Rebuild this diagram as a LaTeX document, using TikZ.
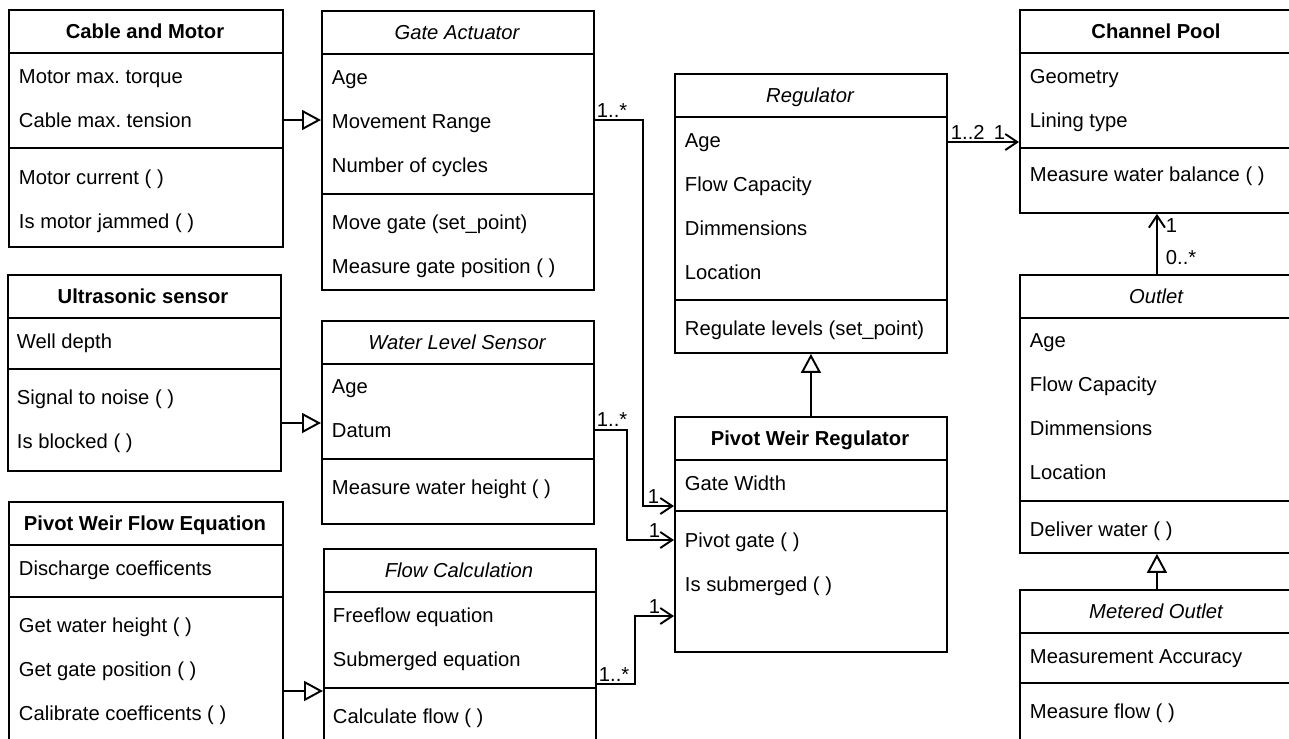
\documentclass[tikz,border=0pt]{standalone}
\usepackage{fontspec}
\setmainfont{Liberation Sans}
\usetikzlibrary{arrows.meta}
\frenchspacing

\tikzset{
  cls/.style={draw, anchor=north west, inner sep=0pt},
  head/.style={anchor=base, inner sep=0pt},
  row/.style={anchor=base west, inner sep=0pt},
  mult/.style={anchor=base west, inner sep=0pt},
  gen/.style={-{Triangle[open,length=0.38cm,width=0.4cm]}},
  assoc/.style={-{Straight Barb[length=0.24cm,width=0.32cm]}}
}

\begin{document}
\begin{tikzpicture}[x=0.02cm, y=-0.02cm, line width=1.1pt, font=\fontsize{11.5}{14}\selectfont]
\useasboundingbox (0,0) rectangle (1289,738);
\clip (0,0) rectangle (1289,738);

% Cable and Motor
\node[cls, minimum width=5.48cm, minimum height=4.74cm] (cable) at (8,9) {};
\node[head] (cableH) at (145,38) {\bfseries Cable and Motor};
\draw (cable.west |- 0,53) -- (cable.east |- 0,53);
\node[row] (cableA1) at (18,83) {Motor max. torque};
\node[row] (cableA2) at (18,127) {Cable max. tension};
\draw (cable.west |- 0,148) -- (cable.east |- 0,148);
\node[row] (cableM1) at (18,184) {Motor current ( )};
\node[row] (cableM2) at (18,228) {Is motor jammed ( )};

% Gate Actuator
\node[cls, minimum width=5.44cm, minimum height=5.58cm] (gate) at (321,10) {};
\node[head] (gateH) at (457,39) {\itshape Gate Actuator};
\draw (gate.west |- 0,54) -- (gate.east |- 0,54);
\node[row] (gateA1) at (331,84) {Age};
\node[row] (gateA2) at (331,128) {Movement Range};
\node[row] (gateA3) at (331,172) {Number of cycles};
\draw (gate.west |- 0,194) -- (gate.east |- 0,194);
\node[row] (gateM1) at (331,229) {Move gate (set\_point)};
\node[row] (gateM2) at (331,273) {Measure gate position ( )};

% Regulator
\node[cls, minimum width=5.44cm, minimum height=5.58cm] (reg) at (674,73) {};
\node[head] (regH) at (810,102) {\itshape Regulator};
\draw (reg.west |- 0,117) -- (reg.east |- 0,117);
\node[row] (regA1) at (684,147) {Age};
\node[row] (regA2) at (684,191) {Flow Capacity};
\node[row] (regA3) at (684,235) {Dimmensions};
\node[row] (regA4) at (684,279) {Location};
\draw (reg.west |- 0,300) -- (reg.east |- 0,300);
\node[row] (regM1) at (684,335) {Regulate levels (set\_point)};

% Channel Pool
\node[cls, minimum width=5.48cm, minimum height=4.06cm] (pool) at (1019,9) {};
\node[head] (poolH) at (1156,38) {\bfseries Channel Pool};
\draw (pool.west |- 0,53) -- (pool.east |- 0,53);
\node[row] (poolA1) at (1029,83) {Geometry};
\node[row] (poolA2) at (1029,127) {Lining type};
\draw (pool.west |- 0,148) -- (pool.east |- 0,148);
\node[row] (poolM1) at (1029,181) {Measure water balance ( )};

% Ultrasonic sensor
\node[cls, minimum width=5.46cm, minimum height=3.92cm] (ultra) at (7,274) {};
\node[head] (ultraH) at (143,303) {\bfseries Ultrasonic sensor};
\draw (ultra.west |- 0,318) -- (ultra.east |- 0,318);
\node[row] (ultraA1) at (16,348) {Well depth};
\draw (ultra.west |- 0,369) -- (ultra.east |- 0,369);
\node[row] (ultraM1) at (16,404) {Signal to noise ( )};
\node[row] (ultraM2) at (16,448) {Is blocked ( )};

% Water Level Sensor
\node[cls, minimum width=5.44cm, minimum height=4.06cm] (water) at (321,320) {};
\node[head] (waterH) at (457,349) {\itshape Water Level Sensor};
\draw (water.west |- 0,364) -- (water.east |- 0,364);
\node[row] (waterA1) at (331,393) {Age};
\node[row] (waterA2) at (331,437) {Datum};
\draw (water.west |- 0,459) -- (water.east |- 0,459);
\node[row] (waterM1) at (331,494) {Measure water height ( )};

% Pivot Weir Regulator
\node[cls, minimum width=5.44cm, minimum height=4.70cm] (pivot) at (674,416) {};
\node[head] (pivotH) at (810,445) {\bfseries Pivot Weir Regulator};
\draw (pivot.west |- 0,460) -- (pivot.east |- 0,460);
\node[row] (pivotA1) at (684,490) {Gate Width};
\draw (pivot.west |- 0,511) -- (pivot.east |- 0,511);
\node[row] (pivotM1) at (684,547) {Pivot gate ( )};
\node[row] (pivotM2) at (684,591) {Is submerged ( )};

% Outlet
\node[cls, minimum width=5.48cm, minimum height=5.56cm] (outlet) at (1019,274) {};
\node[head] (outletH) at (1156,303) {\itshape Outlet};
\draw (outlet.west |- 0,318) -- (outlet.east |- 0,318);
\node[row] (outletA1) at (1029,347) {Age};
\node[row] (outletA2) at (1029,391) {Flow Capacity};
\node[row] (outletA3) at (1029,435) {Dimmensions};
\node[row] (outletA4) at (1029,479) {Location};
\draw (outlet.west |- 0,501) -- (outlet.east |- 0,501);
\node[row] (outletM1) at (1029,536) {Deliver water ( )};

% Pivot Weir Flow Equation
\node[cls, minimum width=5.48cm, minimum height=5.2cm] (floweq) at (8,501) {};
\node[head] (floweqH) at (145,530) {\bfseries Pivot Weir Flow Equation};
\draw (floweq.west |- 0,545) -- (floweq.east |- 0,545);
\node[row] (floweqA1) at (18,575) {Discharge coefficents};
\draw (floweq.west |- 0,597) -- (floweq.east |- 0,597);
\node[row] (floweqM1) at (18,632) {Get water height ( )};
\node[row] (floweqM2) at (18,676) {Get gate position ( )};
\node[row] (floweqM3) at (18,720) {Calibrate coefficents ( )};

% Flow Calculation
\node[cls, minimum width=5.44cm, minimum height=4.4cm] (calc) at (323,548) {};
\node[head] (calcH) at (459,577) {\itshape Flow Calculation};
\draw (calc.west |- 0,592) -- (calc.east |- 0,592);
\node[row] (calcA1) at (332,622) {Freeflow equation};
\node[row] (calcA2) at (332,666) {Submerged equation};
\draw (calc.west |- 0,688) -- (calc.east |- 0,688);
\node[row] (calcM1) at (332,723) {Calculate flow ( )};

% Metered Outlet
\node[cls, minimum width=5.48cm, minimum height=3.4cm] (meter) at (1019,589) {};
\node[head] (meterH) at (1156,618) {\itshape Metered Outlet};
\draw (meter.west |- 0,633) -- (meter.east |- 0,633);
\node[row] (meterA1) at (1029,663) {Measurement Accuracy};
\draw (meter.west |- 0,683) -- (meter.east |- 0,683);
\node[row] (meterM1) at (1029,718) {Measure flow ( )};

% generalisations
\draw[gen] (cable.east |- 0,120) -- (gate.west |- 0,120);
\draw[gen] (ultra.east |- 0,423) -- (water.west |- 0,423);
\draw[gen] (floweq.east |- 0,691) -- (calc.west |- 0,691);
\draw[gen] (pivot.north) -- (reg.south);
\draw[gen] (meter.north) -- (outlet.south);

% associations
\draw[assoc] (reg.east |- 0,142) -- (pool.west |- 0,142);
\draw[assoc] (outlet.north) -- (pool.south);
\draw[assoc] (gate.east |- 0,120) -- ++(48,0) |- (pivot.west |- 0,506);
\draw[assoc] (water.east |- 0,430) -- ++(32,0) |- (pivot.west |- 0,540);
\draw[assoc] (calc.east |- 0,684) -- ++(38,0) |- (pivot.west |- 0,616);

% multiplicities
\node[mult] (mRegPool) at (950,139) {1..2};
\node[mult] (mPoolReg) at (993,139) {1};
\node[mult] (mPoolOut) at (1165,232) {1};
\node[mult] (mOutPool) at (1165,264) {0..*};
\node[mult] (mGate) at (596,117) {1..*};
\node[mult] (mPivotGate) at (647,503) {1};
\node[mult] (mWater) at (596,426) {1..*};
\node[mult] (mPivotWater) at (648,537) {1};
\node[mult] (mCalc) at (598,681) {1..*};
\node[mult] (mPivotCalc) at (648,613) {1};
\end{tikzpicture}
\end{document}
